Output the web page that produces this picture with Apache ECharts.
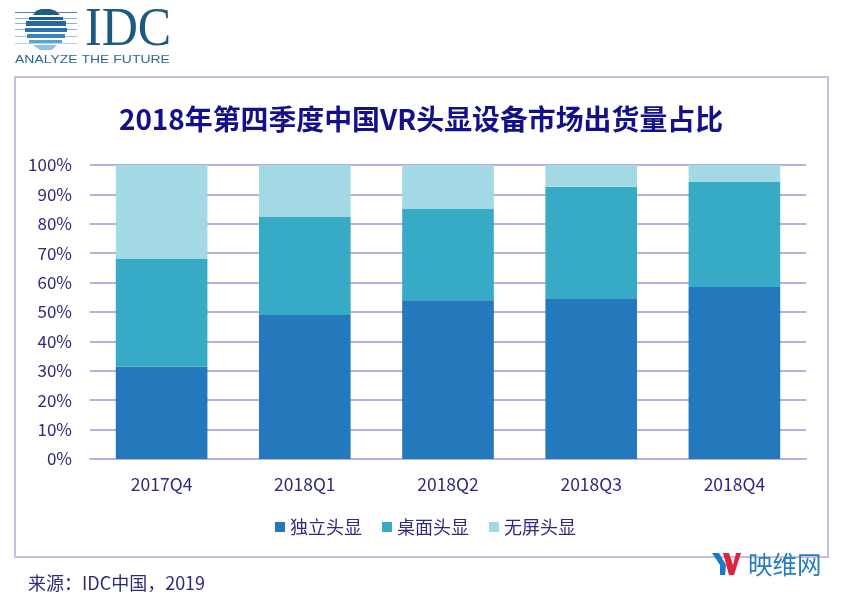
<!DOCTYPE html>
<html><head><meta charset="utf-8">
<style>html,body{margin:0;padding:0;background:#fff}#c{width:844px;height:597px}</style>
<script src="https://cdn.jsdelivr.net/npm/echarts@6/dist/echarts.min.js"></script>
</head><body><div id="c"></div>
<script>
const categories = ['2017Q4','2018Q1','2018Q2','2018Q3','2018Q4'];
const standalone = [31.5,49,54,54.7,58.5];
const desktop = [36.7,33.3,31,37.9,35.7];
const screenless = [31.8,17.7,15,7.4,5.8];
const seriesNames = ['独立头显','桌面头显','无屏头显'];
const titleText = '2018年第四季度中国VR头显设备市场出货量占比';
const sourceText = '来源：IDC中国，2019';
const brandName = 'IDC';
const brandTagline = 'ANALYZE THE FUTURE';
const watermarkText = '映维网';
</script>
<script>
const font = '"Noto Sans CJK SC","Noto Sans",sans-serif';
const textColor = '#2e2a7e';
const colors = ['#2379bb','#37abc6','#a2d9e5'];
const chart = echarts.init(document.getElementById('c'));
const logoLines = [[12,'#5a7f9c'],[18,'#8fb2cc'],[23,'#8fb2cc'],[29,'#8fb2cc'],[36,'#9cc0da'],[43,'#b5d4e8']];
const logoBands = [
 {y:17,h:3,x:29,w:34,c:'#225f90'},{y:21,h:5,x:26,w:40,c:'#26689f'},
 {y:28,h:4,x:25,w:42,c:'#2a72ad'},{y:34,h:4,x:27,w:38,c:'#3583c0'},{y:40,h:3,x:29,w:33,c:'#5ba3d6'}
];
chart.setOption({
  animation:false,
  backgroundColor:'#fff',
  textStyle:{fontFamily:font},
  title:{text:titleText,left:416,top:95,textAlign:'center',
    textStyle:{fontSize:27.9,fontWeight:'bold',color:'#14108a',fontFamily:font,lineHeight:38}},
  grid:{left:90,right:38,top:165,bottom:138,containLabel:false},
  legend:{data:seriesNames,left:270,top:513,itemWidth:10,itemHeight:10,itemGap:20,icon:'rect',
    textStyle:{fontSize:18,color:textColor,fontFamily:font}},
  xAxis:{type:'category',data:categories,
    axisLine:{lineStyle:{color:'#b9b0e0',width:2}},axisTick:{show:false},
    axisLabel:{fontSize:17.5,color:textColor,margin:17,fontFamily:font}},
  yAxis:{type:'value',min:0,max:100,interval:10,
    axisLine:{show:false},axisTick:{show:false},
    axisLabel:{fontSize:17,color:textColor,margin:18,formatter:'{value}%',fontFamily:font},
    splitLine:{lineStyle:{color:'#b9b0e0',width:2}}},
  series:[
    {name:seriesNames[0],type:'bar',stack:'t',barWidth:'64%',data:standalone,itemStyle:{color:colors[0]}},
    {name:seriesNames[1],type:'bar',stack:'t',data:desktop,itemStyle:{color:colors[1]}},
    {name:seriesNames[2],type:'bar',stack:'t',data:screenless,itemStyle:{color:colors[2]}}
  ],
  graphic:[
    {type:'rect',silent:true,shape:{x:15,y:77,width:813,height:480},style:{fill:'none',stroke:'#c4bfe2',lineWidth:2}},
    ...logoLines.map(l=>({type:'rect',silent:true,shape:{x:15,y:l[0],width:62,height:1},style:{fill:l[1]}})),
    {type:'polygon',silent:true,shape:{points:[[33,15],[36,11],[41,9],[50,9],[56,11],[60,15]]},style:{fill:'#1c5f86'}},
    ...logoBands.map(b=>({type:'rect',silent:true,shape:{x:b.x,y:b.y,width:b.w,height:b.h},style:{fill:b.c}})),
    {type:'polygon',silent:true,shape:{points:[[33,45],[57,45],[52,50],[40,50]]},style:{fill:'#8fc3e6'}},
    {type:'text',silent:true,x:85,y:3,scaleX:0.91,style:{text:brandName,fontFamily:'"Liberation Serif",serif',fontSize:55,fill:'#1e5a80'}},
    {type:'text',silent:true,x:15,y:55,scaleX:1.33,style:{text:brandTagline,fontFamily:'"Liberation Sans",sans-serif',fontSize:10.5,fill:'#2c6a8f'}},
    {type:'text',silent:true,x:28,y:574,style:{text:sourceText,fontFamily:font,fontSize:18,fill:textColor}},
    {type:'polygon',silent:true,shape:{points:[[712,553],[719,553],[726,565],[725,575],[720,575],[720,565]]},style:{fill:'#1c78c8'}},
    {type:'polygon',silent:true,shape:{points:[[723,553],[729,553],[733,565],[736,553],[741,553],[734,575],[729,575]]},style:{fill:'#e0233f'}},
    {type:'text',silent:true,x:748,y:552,style:{text:watermarkText,fontFamily:font,fontSize:24.5,fill:'#2a7cc0'}}
  ]
});
</script></body></html>
